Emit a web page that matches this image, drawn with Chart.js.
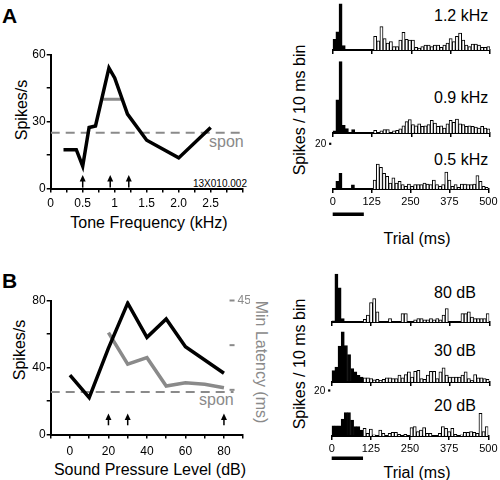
<!DOCTYPE html>
<html>
<head>
<meta charset="utf-8">
<script src="https://cdn.jsdelivr.net/npm/chart.js@4.4.1/dist/chart.umd.min.js"></script>
<style>
  html, body { margin: 0; padding: 0; background: #fff; }
  #fig { position: relative; width: 500px; height: 480px; overflow: hidden; font-family: "Liberation Sans", Arial, sans-serif; color: #000; }
  #fig canvas { position: absolute; }
  .lbl { position: absolute; white-space: nowrap; line-height: 1; font-size: 16px; }
  .c { transform: translate(-50%, -50%); }
  .vc { transform: translateY(-50%); }
  .up { transform: translate(-50%, -50%) rotate(-90deg); }
  .down { transform: translate(-50%, -50%) rotate(90deg); }
  .grey { color: #8a8a8a; }
  .big { font-size: 21px; font-weight: bold; }
</style>
</head>
<body>
<div id="fig">
  <div class="lbl big" style="left:2px;top:5px">A</div>
  <div class="lbl up" style="left:21.7px;top:110px">Spikes/s</div>
  <div class="lbl c" style="left:149px;top:222.5px">Tone Frequency (kHz)</div>
  <div class="lbl vc grey" style="left:209px;top:142px">spon</div>
  <div class="lbl vc" style="left:193px;top:183.5px;font-size:10px">13X010.002</div>
  <div class="lbl up" style="left:300px;top:110px">Spikes / 10 ms bin</div>
  <div class="lbl c" style="left:417px;top:239px">Trial (ms)</div>
  <div class="lbl vc" style="left:434px;top:16.2px">1.2 kHz</div>
  <div class="lbl vc" style="left:434px;top:97.8px">0.9 kHz</div>
  <div class="lbl vc" style="left:434px;top:159.5px">0.5 kHz</div>

  <div class="lbl big" style="left:2px;top:270px">B</div>
  <div class="lbl up" style="left:20px;top:350px">Spikes/s</div>
  <div class="lbl c" style="left:150px;top:469.5px">Sound Pressure Level (dB)</div>
  <div class="lbl vc grey" style="left:199px;top:399.5px">spon</div>
  <div class="lbl down grey" style="left:260.5px;top:361.5px">Min Latency (ms)</div>
  <div class="lbl up" style="left:300px;top:364px">Spikes / 10 ms bin</div>
  <div class="lbl c" style="left:417px;top:473px">Trial (ms)</div>
  <div class="lbl vc" style="left:434px;top:292.8px">80 dB</div>
  <div class="lbl vc" style="left:434px;top:351px">30 dB</div>
  <div class="lbl vc" style="left:434px;top:406px">20 dB</div>
</div>
<script>
const FONT = '"Liberation Sans", Arial, sans-serif';
const GREY = '#8a8a8a';

// ---- panel A: frequency tuning
const freqKHz = [0.2, 0.4, 0.5, 0.6, 0.7, 0.91, 1.0, 1.2, 1.5, 2.0, 2.5];
const freqRate = [17.4, 17.4, 10, 27.3, 28, 54, 49.5, 33.3, 21.6, 13.7, 27.3];
const halfMaxKHz = [0.82, 1.1];
const halfMaxRate = [40, 40];
const sponA = 25;
const arrowKHz = [0.5, 0.93, 1.22];
const freqTickVals = [0, 0.5, 1, 1.5, 2, 2.5];
const freqTickLabels = ['0', '0.5', '1', '1.5', '2.0', '2.5'];
const rateTickValsA = [0, 30, 60];

// ---- panel B: level function + min latency
const splDb = [0, 10, 20, 30, 40, 50, 60, 80];
const splRate = [35.4, 22, 51.6, 78.4, 58, 69, 52.4, 36.6];
const latDb = [20, 30, 40, 50, 60, 70, 80];
const latMs = [34.2, 23.6, 25.8, 16.3, 17.4, 16.9, 15.7];
const sponB = 25.4;
const arrowDb = [20, 30, 80];
const splTickVals = [0, 20, 40, 60, 80];
const rateTickValsB = [0, 40, 80];
const latTickVals = [15, 30, 45];
const latTickLabels = ['', '', '45'];

// ---- PSTHs, spikes per 10 ms bin, 0-500 ms
const trialTickVals = [0, 125, 250, 375, 500];
const stimMs = [0, 100];
const hA12 = [4.7, 8, 20.3, 2, 0, 0, 0, 0, 0, 0,
  0, 0, 0, 6, 4, 10.3, 5, 3, 3.7, 1.5,
  1.5, 4.4, 7.8, 4.7, 4.4, 4.4, 1.2, 0.8, 1.5, 2.2,
  2.2, 1.5, 2.2, 2.2, 1.2, 2.2, 3, 5, 3.7, 6,
  7.4, 4.4, 2.2, 1.5, 2.6, 2.6, 2.2, 1.2, 1.2, 1.5];
const hA09 = [1, 14.7, 31.6, 3.4, 1.9, 0, 1.5, 0, 0, 0,
  0, 0, 0, 1.2, 0, 1, 1.5, 1.5, 0, 1,
  1.2, 1.8, 3.2, 5, 5.9, 3.7, 3.2, 4.1, 2.9, 3.2,
  3.7, 5.6, 4.4, 2.9, 3.2, 2.2, 4.1, 5.6, 4.7, 6.2,
  4.1, 3.7, 2.9, 3.2, 2.9, 2.6, 2.2, 2.9, 2.2, 1.8];
const hA05 = [0, 3.4, 7, 0, 0, 0, 1.9, 0, 0, 0,
  0, 0, 0, 4, 11, 9.6, 7, 5.6, 2.6, 4.9,
  2.6, 3.4, 2, 1.2, 2.2, 1.2, 2, 2, 2, 2.6,
  2.2, 2, 4, 2, 1.2, 2, 7.5, 4, 1.2, 2,
  0.7, 2.2, 2.2, 2, 2, 2.2, 6, 3.4, 1.2, 0.7];
const hB80 = [0.5, 21, 15, 1.5, 0, 0, 0, 0, 0, 0,
  1.2, 3, 8.5, 10.3, 4.4, 0, 0, 0, 1.5, 0,
  0, 0, 3.7, 3.7, 0, 0, 1, 1.5, 1.5, 1,
  1, 1.5, 1, 1.5, 1, 3, 5.9, 0, 0, 0,
  0, 3.7, 3.7, 4.4, 2.2, 1.5, 1.5, 1.5, 1.5, 3.7];
const hB30 = [5, 6.5, 15.7, 22, 16, 12, 5.9, 4.4, 2.9, 2.2,
  1.8, 1.8, 1.5, 1, 1.2, 0.7, 1.2, 1.8, 1.8, 1.5,
  1.5, 3, 1.8, 3.2, 4.4, 2.2, 4.7, 5.1, 1.5, 1.2,
  3, 4.7, 4.7, 1.5, 4.4, 6.2, 3, 2.2, 2.2, 2.2,
  2.2, 3, 4.4, 1.5, 0.7, 3.2, 1.8, 1.8, 1.5, 1.2];
const hB20 = [4.5, 4.5, 4.5, 7.5, 10.3, 10.3, 7, 4.1, 4.1, 2.6,
  3.4, 1.2, 3.1, 0.5, 0, 2.6, 1.2, 0, 1.2, 1.6,
  1.6, 0.7, 0, 0.7, 0, 3.7, 4.1, 1.9, 2.6, 3.7,
  1.2, 1.2, 0, 0, 1.2, 4.1, 3.4, 1.9, 3.4, 0.7,
  0, 0.5, 1.6, 1.6, 1.9, 1.6, 1.2, 10, 1.9, 4.1];

const binMs = hA12.map((_, i) => i * 10 + 5);

Chart.defaults.font.family = FONT;

function pick(v, vals, labels) {
  const i = vals.findIndex(t => Math.abs(t - v) < 1e-6);
  if (i < 0) return '';
  return labels ? labels[i] : String(vals[i]);
}

const extras = {
  id: 'extras',
  afterDatasetsDraw(chart, args, opts) {
    const ctx = chart.ctx;
    const xs = chart.scales.x, ys = chart.scales.y;
    const area = chart.chartArea;
    ctx.save();
    if (opts.arrows) {
      ctx.fillStyle = '#000';
      ctx.strokeStyle = '#000';
      ctx.lineWidth = 1.5;
      opts.arrows.xs.forEach(v => {
        const px = xs.getPixelForValue(v);
        const y0 = ys.getPixelForValue(opts.arrows.from);
        const y1 = ys.getPixelForValue(opts.arrows.to);
        ctx.beginPath(); ctx.moveTo(px, y0); ctx.lineTo(px, y1 + 5); ctx.stroke();
        ctx.beginPath(); ctx.moveTo(px, y1); ctx.lineTo(px - 3, y1 + 6.5); ctx.lineTo(px + 3, y1 + 6.5); ctx.closePath(); ctx.fill();
      });
    }
    if (opts.latAxis) {
      const ys2 = chart.scales.y2;
      const xr = xs.getPixelForValue(opts.latAxis.atX);
      ctx.strokeStyle = GREY; ctx.fillStyle = GREY; ctx.lineWidth = 2;
      ctx.font = '12px ' + FONT; ctx.textBaseline = 'middle'; ctx.textAlign = 'left';
      opts.latAxis.vals.forEach((v, i) => {
        const py = ys2.getPixelForValue(v);
        ctx.beginPath(); ctx.moveTo(xr - 5, py); ctx.lineTo(xr, py); ctx.stroke();
        if (opts.latAxis.labels[i]) ctx.fillText(opts.latAxis.labels[i], xr + 3, py + 0.5);
      });
    }
    if (opts.scaleMark) {
      const py = ys.getPixelForValue(opts.scaleMark);
      ctx.fillStyle = '#000';
      ctx.fillRect(area.left - 3.6, py - 1.2, 2.2, 2.2);
      ctx.font = '10px ' + FONT; ctx.textAlign = 'right'; ctx.textBaseline = 'middle';
      ctx.fillText(String(opts.scaleMark), area.left - 6.5, py + 0.5);
    }
    if (opts.stim) {
      const a = xs.getPixelForValue(opts.stim[0]), b = xs.getPixelForValue(opts.stim[1]);
      ctx.fillStyle = '#000';
      ctx.fillRect(a, area.bottom + opts.stimOffset, b - a, 3.5);
    }
    ctx.restore();
  }
};
Chart.register(extras);

const fig = document.getElementById('fig');
function addCanvas(left, top, w, h) {
  const c = document.createElement('canvas');
  c.width = w; c.height = h;
  c.style.left = left + 'px'; c.style.top = top + 'px';
  fig.appendChild(c);
  return c;
}

function axisStyle() {
  return {
    border: { display: true, color: '#000', width: 2 },
    grid: { drawOnChartArea: false, drawTicks: true, tickLength: 4, color: '#000', lineWidth: 1.5, offset: false }
  };
}

// ---- panel A line chart
const cA = addCanvas(0, 40, 250, 172);
new Chart(cA, {
  type: 'line',
  data: {
    datasets: [
      { data: freqKHz.map((f, i) => ({ x: f, y: freqRate[i] })), borderColor: '#000', borderWidth: 3.5, pointRadius: 0, tension: 0 },
      { data: halfMaxKHz.map((f, i) => ({ x: f, y: halfMaxRate[i] })), borderColor: GREY, borderWidth: 3, pointRadius: 0 },
      { data: [{ x: 0, y: sponA }, { x: 3, y: sponA }], borderColor: GREY, borderWidth: 2, borderDash: [9, 6], pointRadius: 0 }
    ]
  },
  options: {
    responsive: false, animation: false, events: [],
    layout: { padding: { left: 0, right: 7.3, top: 14.5, bottom: 0 } },
    scales: {
      x: Object.assign(axisStyle(), {
        type: 'linear', min: 0, max: 3, offset: false,
        afterFit: s => { s.height = 23.5; },
        ticks: { stepSize: 0.25, autoSkip: false, maxRotation: 0, padding: 3.5, color: '#000', font: { size: 12 },
          callback: v => pick(v, freqTickVals, freqTickLabels) }
      }),
      y: Object.assign(axisStyle(), {
        min: 0, max: 60,
        afterFit: s => { s.width = 50.7; },
        ticks: { stepSize: 15, padding: 1, color: '#000', font: { size: 12 },
          callback: v => pick(v, rateTickValsA) }
      })
    },
    plugins: { legend: { display: false }, tooltip: { enabled: false },
      extras: { arrows: { xs: arrowKHz, from: 0.4, to: 6 } } }
  }
});

// ---- panel B line chart
const cB = addCanvas(0, 280, 250, 185);
new Chart(cB, {
  type: 'line',
  data: {
    datasets: [
      { data: splDb.map((d, i) => ({ x: d, y: splRate[i] })), borderColor: '#000', borderWidth: 3.5, pointRadius: 0, tension: 0, yAxisID: 'y' },
      { data: latDb.map((d, i) => ({ x: d, y: latMs[i] })), borderColor: GREY, borderWidth: 3.5, pointRadius: 0, tension: 0, yAxisID: 'y2' },
      { data: [{ x: -10, y: sponB }, { x: 85, y: sponB }], borderColor: GREY, borderWidth: 2, borderDash: [9, 6], pointRadius: 0, yAxisID: 'y' }
    ]
  },
  options: {
    responsive: false, animation: false, events: [],
    layout: { padding: { left: 0, right: 6.8, top: 20.5, bottom: 0 } },
    scales: {
      x: Object.assign(axisStyle(), {
        type: 'linear', min: -10, max: 90, offset: false,
        afterFit: s => { s.height = 30.5; },
        ticks: { stepSize: 10, autoSkip: false, maxRotation: 0, padding: 6, color: '#000', font: { size: 12 },
          callback: v => pick(v, splTickVals) }
      }),
      y: Object.assign(axisStyle(), {
        min: 0, max: 80,
        afterFit: s => { s.width = 50.7; },
        ticks: { stepSize: 20, padding: 1, color: '#000', font: { size: 12 },
          callback: v => pick(v, rateTickValsB) }
      }),
      y2: { display: false, min: 0, max: 45 }
    },
    plugins: { legend: { display: false }, tooltip: { enabled: false },
      extras: {
        arrows: { xs: arrowDb, from: 5.5, to: 12.5 },
        latAxis: { vals: latTickVals, labels: latTickLabels, atX: 85.5 }
      } }
  }
});

// ---- PSTHs
const K = 2.27; // px per spike, shared by all histograms
const hists = [
  { counts: hA12, base: 50,    yMax: 22, x0: 332.7, x1: 490,   bottom: false },
  { counts: hA09, base: 133.3, yMax: 33, x0: 332.7, x1: 490,   bottom: false },
  { counts: hA05, base: 189.3, yMax: 20, x0: 332.7, x1: 490,   bottom: true, stimOffset: 23.5 },
  { counts: hB80, base: 321.7, yMax: 22, x0: 331.7, x1: 489.3, bottom: false },
  { counts: hB30, base: 381.7, yMax: 23, x0: 331.7, x1: 489.3, bottom: false },
  { counts: hB20, base: 436,   yMax: 20, x0: 331.7, x1: 489.3, bottom: true, stimOffset: 20.5 }
];

hists.forEach(h => {
  const areaTop = h.base - h.yMax * K;
  const top = Math.floor(areaTop) - 6;
  const axisH = h.bottom ? 32 : 6;
  const height = Math.round(h.base - top + axisH);
  const cv = addCanvas(310, top, 190, height);
  new Chart(cv, {
    type: 'bar',
    data: {
      datasets: [{
        data: h.counts.map((v, i) => ({ x: binMs[i], y: v > 0 ? v : null })),
        backgroundColor: h.counts.map((v, i) => binMs[i] < stimMs[1] ? '#000' : '#fff'),
        borderColor: '#000', borderWidth: 1, borderSkipped: 'start',
        barPercentage: 1, categoryPercentage: 1
      }]
    },
    options: {
      responsive: false, animation: false, events: [],
      layout: { padding: { left: h.x0 - 310, right: 500 - h.x1, top: areaTop - top, bottom: 0 } },
      scales: {
        x: Object.assign(axisStyle(), {
          type: 'linear', min: 0, max: 500, offset: false,
          afterFit: s => { s.height = axisH; },
          ticks: { display: h.bottom, stepSize: 125, autoSkip: false, maxRotation: 0, padding: 2.5, color: '#000', font: { size: 11 },
            callback: v => pick(v, trialTickVals) }
        }),
        y: { display: false, min: 0, max: h.yMax }
      },
      plugins: { legend: { display: false }, tooltip: { enabled: false },
        extras: h.bottom ? { scaleMark: 20, stim: stimMs, stimOffset: h.stimOffset } : {} }
    }
  });
});
</script>
</body>
</html>
